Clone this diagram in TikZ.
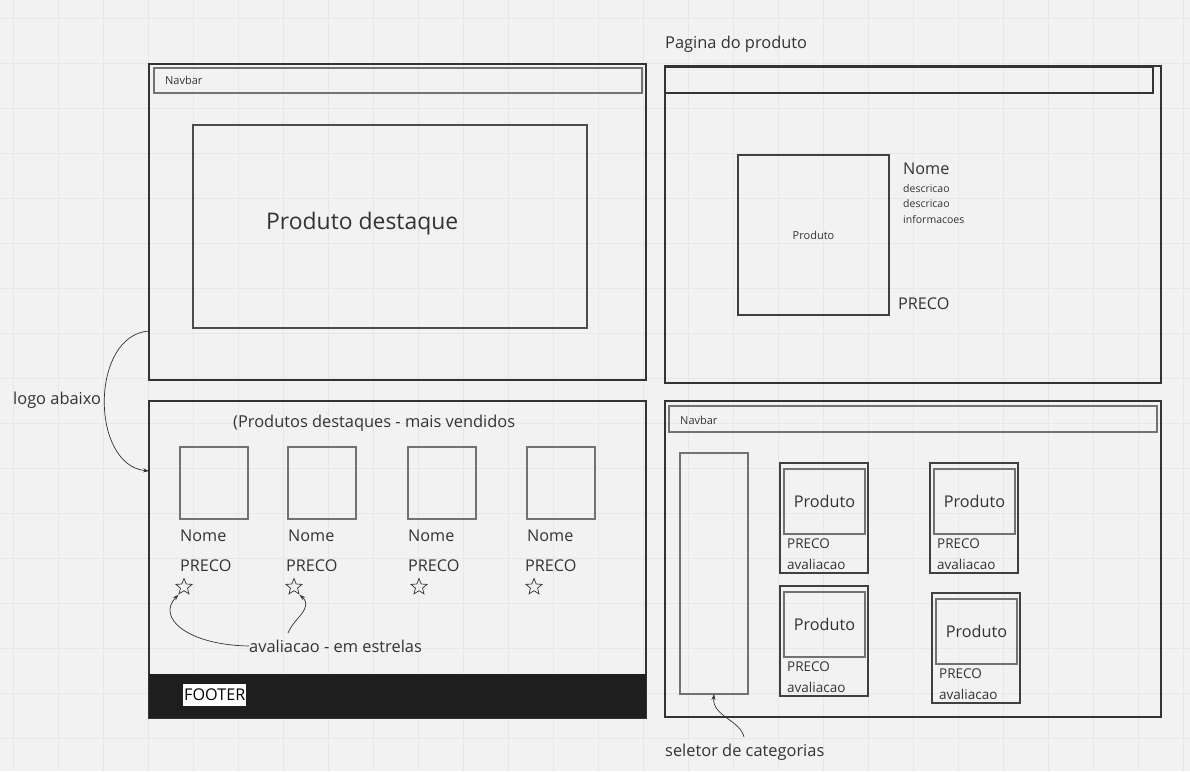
\documentclass[tikz,border=0pt]{standalone}
\usepackage{fontspec}
\setmainfont{Open Sans}
\usetikzlibrary{arrows.meta,shapes.geometric,fit}
\definecolor{ink}{HTML}{333333}
\definecolor{boxgray}{HTML}{727272}
\definecolor{canvas}{HTML}{F2F2F2}
\definecolor{gridgray}{HTML}{E7E7E7}
\definecolor{footgray}{HTML}{1E1E1E}
\tikzset{
  frame/.style={draw=ink, line width=1.05pt, inner sep=0pt, outer sep=0pt},
  grayframe/.style={draw=boxgray, line width=1.6pt, inner sep=0pt, outer sep=0pt},
  lbl/.style={text=ink, inner sep=0pt, anchor=west, text depth=0pt},
  f10/.style={font=\fontsize{10.5}{12}\selectfont},
  f11/.style={font=\fontsize{11}{13}\selectfont},
  f13/.style={font=\fontsize{13.5}{16}\selectfont},
  f15/.style={font=\fontsize{16.4}{19}\selectfont},
  f16/.style={font=\fontsize{16.2}{19}\selectfont},
  f22/.style={font=\fontsize{22.9}{27}\selectfont},
  starmark/.style={star, star points=5, star point ratio=2.3, draw=ink, line width=0.7pt, minimum size=17pt, inner sep=0pt},
  note/.style={draw=ink, line width=0.7pt, -{Stealth[length=6pt,width=4pt]}}
}
\begin{document}
\begin{tikzpicture}[x=1pt,y=-1pt]
%%Canvas
\useasboundingbox (0,0) rectangle (1190,771);
\fill[canvas] (0,0) rectangle (1190,771);
\foreach \x in {13,58,...,1190} \draw[gridgray, line width=0.8pt] (\x,0) -- (\x,771);
\foreach \y in {18,63,...,771} \draw[gridgray, line width=0.8pt] (0,\y) -- (1190,\y);

%%Home page
\node[frame, fit={(149,64) (646,380)}] (home) {};
\node[grayframe, fit={(154,68) (642,93)}] (homenav) {};
\node[lbl, f11] (homenavtxt) at (165,80) {Navbar};
\node[frame, draw=black!70, line width=1.2pt, fit={(193,125) (587,328)}] (hero) {};
\node[lbl, f22] (herotxt) at (266,221) {Produto destaque};

%%Home page - products
\node[frame, fit={(149,401) (646,718)}] (list) {};
\fill[footgray] (149,674) rectangle (646,718);
\node[lbl, f16, fill=white, text=black, inner xsep=1pt, minimum height=22pt] (footer) at (183,695) {FOOTER};
\node[lbl, f15] (listtitle) at (233,421) {(Produtos destaques - mais vendidos};
\foreach \n/\x/\p/\s in {1/180/180/184, 2/288/286/294, 3/408/408/419, 4/527/525/534} {
  \node[grayframe, fit={(\x,447) (\x+68,519)}] (thumb\n) {};
  \node[lbl, f16] (nome\n) at (\x,536) {Nome};
  \node[lbl, f16] (preco\n) at (\p,566) {PRECO};
  \node[starmark] (star\n) at (\s,587) {};
}
\node[lbl, f15] (aval) at (249,646) {avaliacao - em estrelas};
\coordinate (avaltop) at (288,633);
\draw[note] (aval.west) .. controls (188,645) and (156,618) .. (star1.outer point 3);
\draw[note] (avaltop) .. controls (294,618) and (314,608) .. (star2.outer point 4);

%%Logo abaixo
\node[lbl, f15] (logotxt) at (13,398) {logo abaixo};
\draw[note] ([yshift=49pt]home.south west) .. controls (90,335) and (90,465) .. ([yshift=-70pt]list.north west);

%%Product page
\node[lbl, f15] (pagetitle) at (665,42) {Pagina do produto};
\node[frame, fit={(665,66) (1161,383)}] (prodpage) {};
\node[frame, fit={(665,67) (1153,93)}] (prodnav) {};
\node[frame, draw=black!75, fit={(738,155) (889,315)}] (prodimg) {};
\node[f11, text=ink, inner sep=0pt] (prodimgtxt) at (prodimg.center) {Produto};
\node[lbl, f16] (prodnome) at (903,169) {Nome};
\node[lbl, f10] (desc1) at (903,189) {descricao};
\node[lbl, f10] (desc2) at (903,204) {descricao};
\node[lbl, f10] (info) at (903,219) {informacoes};
\node[lbl, f16] (prodpreco) at (898,304) {PRECO};

%%Category page
\node[frame, fit={(665,401) (1161,717)}] (catpage) {};
\node[grayframe, fit={(669,406) (1157,432)}] (catnav) {};
\node[lbl, f11] (catnavtxt) at (680,420) {Navbar};
\node[grayframe, fit={(680,453) (748,694)}] (sidebar) {};
\foreach \n/\x/\y in {1/780/463, 2/930/463, 3/780/586, 4/932/593} {
  \node[frame, draw=black!75, fit={(\x,\y) (\x+88,\y+110)}] (card\n) {};
  \node[grayframe, fit={(\x+4,\y+6) (\x+85,\y+71)}] (cardimg\n) {};
  \node[f16, text=ink, inner sep=0pt] (cardtxt\n) at (cardimg\n.center) {Produto};
  \node[lbl, f13] (cardpreco\n) at (\x+7,\y+81) {PRECO};
  \node[lbl, f13] (cardaval\n) at (\x+7,\y+101) {avaliacao};
}
\node[lbl, f15] (seltxt) at (665,750) {seletor de categorias};
\coordinate (selfoot) at (744,737);
\draw[note] (selfoot) .. controls (740,720) and (712,716) .. (sidebar.south);
\end{tikzpicture}
\end{document}
